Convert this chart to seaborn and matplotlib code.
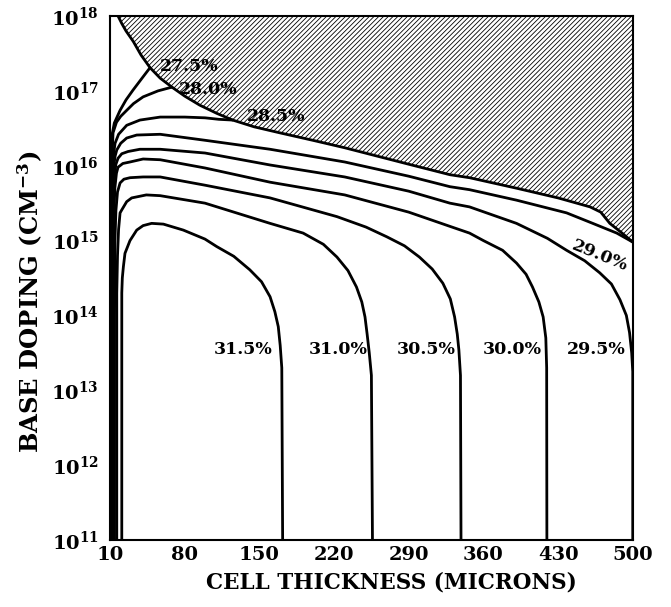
import numpy as np
import pandas as pd
import matplotlib
matplotlib.use("Agg")
import matplotlib.pyplot as plt
import seaborn as sns

# ---------------- data ----------------
# x = cell thickness (microns), y = log10(base doping, cm^-3)
boundary_x = [17.5, 21, 25, 31.8, 39, 47.5, 57, 68, 80, 94, 110, 125, 145, 169, 200, 230, 290, 328.6, 347, 391, 430, 460, 470, 478.5, 490, 500]
boundary_y = [18.0, 17.9, 17.8, 17.66, 17.48, 17.31, 17.17, 17.05, 16.93, 16.81, 16.70, 16.61, 16.52, 16.44, 16.34, 16.24, 16.02, 15.88, 15.84, 15.70, 15.57, 15.45, 15.38, 15.23, 15.10, 14.98]

c275_x = [10.9, 10.9, 11.2, 11.6, 14, 19.4, 25, 31.5, 40, 47.5]
c275_y = [11.0, 15.6, 16.1, 16.39, 16.57, 16.74, 16.88, 17.01, 17.17, 17.31]

c280_x = [11.3, 11.3, 11.6, 12.8, 16, 20, 25.6, 32, 41, 55, 68]
c280_y = [11.0, 15.4, 16.0, 16.44, 16.58, 16.66, 16.74, 16.83, 16.92, 17.0, 17.05]

c285_x = [11.7, 11.7, 12.0, 13.0, 14.7, 18, 25.6, 38, 57, 80, 99, 112, 125]
c285_y = [11.0, 15.2, 15.8, 16.12, 16.30, 16.42, 16.54, 16.61, 16.65, 16.65, 16.64, 16.62, 16.61]

c290_x = [12.1, 12.1, 12.5, 13.5, 14.8, 16.3, 20, 25.6, 35, 57, 99, 160, 230, 290, 328.6, 347, 391, 438, 462.5, 485, 500]
c290_y = [11.0, 15.0, 15.7, 16.0, 16.13, 16.21, 16.30, 16.37, 16.41, 16.42, 16.34, 16.22, 16.05, 15.86, 15.72, 15.68, 15.54, 15.37, 15.23, 15.10, 14.98]

c295_x = [12.6, 12.6, 13.0, 14.0, 15.5, 17.5, 21, 26.9, 38, 57, 99, 160, 230, 290, 328.6, 347, 391, 420, 438, 455, 469, 480, 488, 494, 497, 499, 500, 500]
c295_y = [11.0, 14.8, 15.5, 15.85, 16.02, 16.10, 16.16, 16.19, 16.22, 16.22, 16.17, 16.01, 15.85, 15.66, 15.50, 15.45, 15.23, 15.03, 14.87, 14.73, 14.57, 14.42, 14.21, 14.0, 13.77, 13.5, 13.25, 11.0]

c300_x = [13.2, 13.2, 13.6, 14.5, 16, 17.5, 22, 28.7, 41, 57, 99, 160, 230, 290, 328.6, 347, 360, 378, 391, 400, 406, 412, 416, 418.5, 419.3, 419.5]
c300_y = [11.0, 14.5, 15.3, 15.7, 15.9, 15.98, 16.03, 16.05, 16.09, 16.08, 15.97, 15.78, 15.61, 15.38, 15.19, 15.10, 15.0, 14.87, 14.70, 14.55, 14.38, 14.18, 13.98, 13.7, 13.3, 11.0]

c305_x = [14.2, 14.2, 14.6, 15.5, 17, 19.4, 23, 28.7, 41, 57, 99, 160, 222.7, 250, 269.5, 286, 300, 312, 322, 329, 333, 335.5, 337, 338.5, 339]
c305_y = [11.0, 14.0, 15.0, 15.4, 15.65, 15.77, 15.82, 15.84, 15.85, 15.85, 15.74, 15.57, 15.32, 15.18, 15.05, 14.93, 14.78, 14.62, 14.43, 14.22, 13.98, 13.75, 13.54, 13.2, 11.0]

c310_x = [16.3, 16.3, 17, 18, 19.4, 21, 25.6, 30.3, 44, 57, 99, 160, 191, 210, 222.7, 233, 241, 246, 249, 251, 253, 255, 256]
c310_y = [11.0, 14.3, 14.8, 15.15, 15.37, 15.41, 15.52, 15.57, 15.61, 15.60, 15.50, 15.23, 15.10, 14.95, 14.78, 14.60, 14.38, 14.18, 13.98, 13.75, 13.5, 13.2, 11.0]

c315_x = [21.0, 21.0, 21.5, 22.5, 24, 28.7, 35, 41, 49, 60, 78.7, 99, 110, 126, 141, 152, 160, 164.5, 167.7, 169.5, 171, 171.8]
c315_y = [11.0, 14.3, 14.5, 14.65, 14.83, 15.0, 15.14, 15.2, 15.23, 15.22, 15.14, 15.02, 14.92, 14.79, 14.61, 14.45, 14.25, 14.05, 13.85, 13.6, 13.3, 11.0]

curve_names = ["27.5%", "28.0%", "28.5%", "29.0%", "29.5%", "30.0%", "30.5%", "31.0%", "31.5%"]
curve_xs = [c275_x, c280_x, c285_x, c290_x, c295_x, c300_x, c305_x, c310_x, c315_x]
curve_ys = [c275_y, c280_y, c285_y, c290_y, c295_y, c300_y, c305_y, c310_y, c315_y]

# label positions (x, log10 y, rotation)
label_text = ["27.5%", "28.0%", "28.5%", "29.0%", "31.5%", "31.0%", "30.5%", "30.0%", "29.5%"]
label_x = [84, 102, 166, 469, 134.6, 223.6, 306, 386.7, 466]
label_y = [17.33, 17.02, 16.66, 14.80, 13.55, 13.55, 13.55, 13.55, 13.55]
label_rot = [0, 0, 0, -22, 0, 0, 0, 0, 0]

x_ticks = [10, 80, 150, 220, 290, 360, 430, 500]
y_exps = [11, 12, 13, 14, 15, 16, 17, 18]

# ---------------- plotting ----------------
sns.set_theme(style="white")
plt.rcParams["font.family"] = ["DejaVu Serif"]
plt.rcParams["font.weight"] = "bold"
plt.rcParams["mathtext.fontset"] = "dejavuserif"
plt.rcParams["hatch.linewidth"] = 0.6
plt.rcParams["hatch.color"] = "black"

fig = plt.figure(figsize=(6.71, 6.07), dpi=100)
ax = fig.add_axes([0.164, 0.1104, 0.779, 0.8632])
ax.set_yscale("log")

# hatched forbidden region
bx = np.array(boundary_x)
by = 10 ** np.array(boundary_y)
ax.fill_between(bx, by, 1e18, facecolor="white", edgecolor="black", hatch="///////", linewidth=0)

frames = []
for name, xs, ys in zip(curve_names, curve_xs, curve_ys):
    frames.append(pd.DataFrame({"x": xs, "y": 10 ** np.array(ys), "curve": name}))
df = pd.concat(frames, ignore_index=True)
bdf = pd.DataFrame({"x": bx, "y": by})

sns.lineplot(data=bdf, x="x", y="y", sort=False, estimator=None, color="black", lw=2.0, ax=ax)
for name in curve_names:
    sub = df[df["curve"] == name]
    sns.lineplot(data=sub, x="x", y="y", sort=False, estimator=None, color="black", lw=2.0, ax=ax)

for t, x, y, r in zip(label_text, label_x, label_y, label_rot):
    ax.text(x, 10 ** y, t, ha="center", va="center", fontsize=12.5, fontweight="bold",
            rotation=r, color="black")

ax.set_xlim(10, 500)
ax.set_ylim(1e11, 1e18)
ax.set_xticks(x_ticks)
ax.set_xticklabels([str(v) for v in x_ticks])
ax.set_yticks([10.0 ** e for e in y_exps])
ax.set_yticklabels([r"$\mathbf{10^{%d}}$" % e for e in y_exps])
ax.minorticks_off()
ax.tick_params(axis="both", direction="in", length=6, width=1.2, labelsize=14,
               colors="black", pad=4)
ax.tick_params(axis="y", pad=8)
for s in ax.spines.values():
    s.set_color("black")
    s.set_linewidth(1.5)

ax.set_xlabel("CELL THICKNESS (MICRONS)", fontsize=15.5, fontweight="bold", color="black")
ax.set_ylabel(r"BASE DOPING (CM$^{\mathbf{-3}}$)", fontsize=17.5, fontweight="bold", color="black")
ax.xaxis.set_label_coords(0.539, -0.06)
ax.yaxis.set_label_coords(-0.125, 0.454)

fig.savefig("out.png", dpi=100)
